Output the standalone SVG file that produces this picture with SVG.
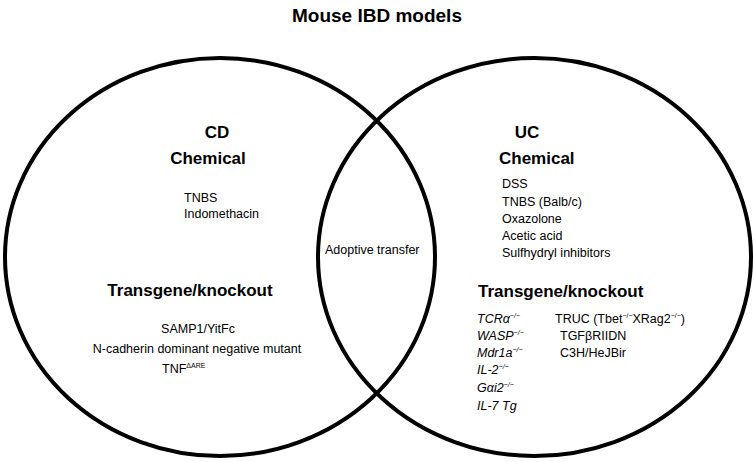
<svg xmlns="http://www.w3.org/2000/svg" width="754" height="462" viewBox="0 0 754 462">
<style>
text{font-family:"Liberation Sans",Arial,sans-serif;fill:#000}
.t{font-size:19px;font-weight:bold}
.h{font-size:17px;font-weight:bold}
.s{font-size:12.5px}
.i{font-style:italic}
.sup{font-size:7px}
.c{fill:none;stroke:#000;stroke-width:4}
</style>
<rect width="754" height="462" fill="#fff"/>
<text class="t" x="377" y="22" text-anchor="middle">Mouse IBD models</text>
<g id="connectors"></g>
<g id="cd">
<ellipse class="c" cx="220" cy="257" rx="215" ry="199"/>
<text class="h" x="217" y="138" text-anchor="middle">CD</text>
<text class="h" x="208" y="164" text-anchor="middle">Chemical</text>
<text class="s" x="184" y="202">TNBS</text>
<text class="s" x="184" y="218">Indomethacin</text>
<text class="h" x="190" y="296" text-anchor="middle">Transgene/knockout</text>
<text class="s" x="198" y="333" text-anchor="middle">SAMP1/YitFc</text>
<text class="s" x="197" y="353" text-anchor="middle">N-cadherin dominant negative mutant</text>
<text class="s" x="162" y="373">TNF<tspan class="sup" dy="-5">ΔARE</tspan></text>
</g>
<g id="uc">
<ellipse class="c" cx="534.5" cy="257" rx="216.5" ry="199"/>
<text class="h" x="527" y="138" text-anchor="middle">UC</text>
<text class="h" x="499" y="164">Chemical</text>
<text class="s" x="502" y="188">DSS</text>
<text class="s" x="502" y="206">TNBS (Balb/c)</text>
<text class="s" x="502" y="223">Oxazolone</text>
<text class="s" x="502" y="240">Acetic acid</text>
<text class="s" x="502" y="257">Sulfhydryl inhibitors</text>
<text class="h" x="478" y="297">Transgene/knockout</text>
<text class="s i" x="477" y="323">TCR<tspan>α</tspan><tspan class="sup" dy="-5">−/−</tspan></text>
<text class="s i" x="477" y="340">WASP<tspan class="sup" dy="-5">−/−</tspan></text>
<text class="s i" x="477" y="357">Mdr1a<tspan class="sup" dy="-5">−/−</tspan></text>
<text class="s i" x="477" y="374">IL-2<tspan class="sup" dy="-5">−/−</tspan></text>
<text class="s i" x="477" y="392">G<tspan>α</tspan>i2<tspan class="sup" dy="-5">−/−</tspan></text>
<text class="s i" x="477" y="410">IL-7 Tg</text>
<text class="s" x="555" y="323">TRUC (Tbet<tspan class="sup" dy="-5">−/−</tspan><tspan dy="5">XRag2</tspan><tspan class="sup" dy="-5">−/−</tspan><tspan dy="5">)</tspan></text>
<text class="s" x="560" y="340">TGFβRIIDN</text>
<text class="s" x="560" y="357">C3H/HeJBir</text>
</g>
<g id="overlap">
<text class="s" x="325" y="254">Adoptive transfer</text>
</g>
</svg>
